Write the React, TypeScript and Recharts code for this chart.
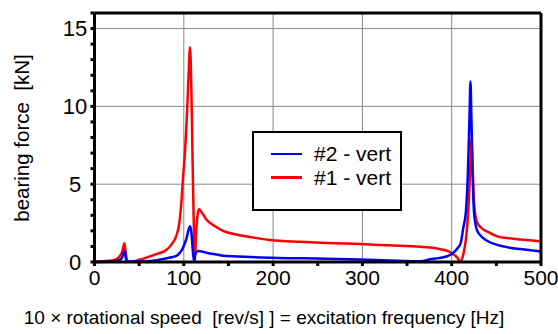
import { LineChart, Line, XAxis, YAxis, CartesianGrid } from 'recharts'

// excitation frequency [Hz]
const freq = [
  0, 10, 20, 25, 28, 31, 33.5, 35, 36.5, 40, 50, 62, 70, 80, 86, 92, 95, 97.5, 99, 101, 103, 105, 107, 108.5,
  110, 111.5, 112.5, 113.5, 115, 117, 120, 125, 135, 144, 160, 180, 197, 230, 260, 298, 330, 365, 376, 385, 395,
  402, 406, 410, 413, 416, 418, 420, 421, 422, 423.5, 425, 428, 433, 440, 451, 465, 477, 500,
]
// #1 - vert [kN]
const bearing1 = [
  0.02, 0.05, 0.1, 0.2, 0.35, 0.65, 1.2, 0.6, 0.05, 0.02, 0.14, 0.36, 0.52, 0.75, 1.1, 1.75, 2.5, 4.0, 5.3, 6.8,
  8.8, 11.5, 13.8, 11, 6, 1.5, 0.1, 1.5, 2.8, 3.4, 3.2, 2.75, 2.3, 2.0, 1.75, 1.55, 1.42, 1.3, 1.22, 1.15, 1.07,
  0.98, 0.93, 0.85, 0.72, 0.5, 0.3, 0.02, 0.5, 1.5, 2.8, 5.0, 6.5, 7.9, 6.0, 3.8, 2.6, 2.2, 1.95, 1.65, 1.52, 1.45,
  1.34,
]
// #2 - vert [kN]
const bearing2 = [
  0, 0.01, 0.02, 0.06, 0.12, 0.3, 0.7, 0.3, 0.02, 0.02, 0.03, 0.06, 0.12, 0.22, 0.3, 0.4, 0.55, 0.75, 0.9, 1.2,
  1.5, 2.0, 2.3, 1.9, 0.8, 0.05, 0.4, 0.6, 0.68, 0.7, 0.68, 0.6, 0.5, 0.4, 0.36, 0.31, 0.27, 0.24, 0.21, 0.16,
  0.1, 0.05, 0.17, 0.25, 0.37, 0.6, 0.85, 1.2, 2.2, 3.3, 5.5, 9.5, 11.6, 9.5, 5.5, 3.2, 2.1, 1.65, 1.35, 1.1,
  0.92, 0.83, 0.67,
]

const xTicks = [0, 50, 100, 150, 200, 250, 300, 350, 400, 450, 500]
const yTicks = [0, 1, 2, 3, 4, 5, 6, 7, 8, 9, 10, 11, 12, 13, 14, 15, 16]
const xGrid = [100, 200, 300, 400]
const yGrid = [5, 10, 15]

const data = freq.map((f, i) => ({ f, b1: bearing1[i], b2: bearing2[i] }))

const FONT = '"Liberation Sans", Arial, sans-serif'

const YTick = ({ x, y, payload }: any) =>
  payload.value % 5 === 0 ? (
    <text x={x} y={y} dy="0.35em" textAnchor="middle" fontSize={22} fill="#000" fontFamily={FONT}>
      {payload.value}
    </text>
  ) : null

const XTick = ({ x, y, payload }: any) =>
  payload.value % 100 === 0 ? (
    <text x={x} y={y} dy="0.72em" textAnchor="middle" fontSize={21} fill="#000" fontFamily={FONT}>
      {payload.value}
    </text>
  ) : null

const XTitle = () => (
  <text x={264} y={324} textAnchor="middle" fontSize={19} fill="#000" fontFamily={FONT} style={{ whiteSpace: 'pre' }}>
    {'10 \u00d7 rotational speed  [rev/s] ] = excitation frequency [Hz]'}
  </text>
)

const YTitle = () => (
  <text
    x={22}
    y={138}
    transform="rotate(-90 22 138)"
    dy="0.35em"
    textAnchor="middle"
    fontSize={20.5}
    fill="#000"
    fontFamily={FONT}
    style={{ whiteSpace: 'pre' }}
  >
    {'bearing force  [kN]'}
  </text>
)

const legendItems = [
  { label: '#2 - vert', color: '#0000ff' },
  { label: '#1 - vert', color: '#ff0000' },
]

export default function App() {
  return (
    <div style={{ position: 'absolute', left: 0, top: 0, width: 558, height: 334, background: '#fff' }}>
      <LineChart width={558} height={334} data={data} margin={{ top: 12, right: 0, bottom: 0, left: 0 }}>
        <CartesianGrid
          xAxisId="b"
          yAxisId="l"
          horizontalValues={yGrid}
          verticalValues={xGrid}
          stroke="#888"
          strokeWidth={1}
        />
        <XAxis
          xAxisId="b"
          dataKey="f"
          type="number"
          domain={[0, 500]}
          ticks={xTicks}
          interval={0}
          height={72}
          stroke="#000"
          strokeWidth={3}
          tickSize={4}
          tickMargin={4}
          tick={<XTick />}
          label={<XTitle />}
        />
        <XAxis
          xAxisId="t"
          dataKey="f"
          type="number"
          orientation="top"
          domain={[0, 500]}
          ticks={xTicks}
          interval={0}
          height={1}
          stroke="#000"
          strokeWidth={3}
          tickSize={4}
          tick={false}
        />
        <YAxis
          yAxisId="l"
          type="number"
          domain={[0, 16]}
          ticks={yTicks}
          interval={0}
          width={94.5}
          stroke="#000"
          strokeWidth={3}
          tickSize={4}
          tickMargin={15.5}
          tick={<YTick />}
          label={<YTitle />}
        />
        <YAxis
          yAxisId="r"
          orientation="right"
          type="number"
          domain={[0, 16]}
          ticks={yTicks}
          interval={0}
          width={17}
          stroke="#000"
          strokeWidth={3}
          tickSize={4}
          tick={false}
        />
        <Line
          xAxisId="b"
          yAxisId="l"
          dataKey="b1"
          type="monotone"
          stroke="#ff0000"
          strokeWidth={2.5}
          dot={false}
          isAnimationActive={false}
        />
        <Line
          xAxisId="b"
          yAxisId="l"
          dataKey="b2"
          type="monotone"
          stroke="#0000ff"
          strokeWidth={2.5}
          dot={false}
          isAnimationActive={false}
        />
      </LineChart>
      <div
        style={{
          position: 'absolute',
          left: 252,
          top: 131,
          width: 146,
          height: 67,
          border: '2px solid #000',
          background: '#fff',
          fontFamily: FONT,
          fontSize: 21,
          lineHeight: '23.5px',
          paddingTop: 9,
          boxSizing: 'content-box',
        }}
      >
        {legendItems.map((it) => (
          <div key={it.label} style={{ display: 'flex', alignItems: 'center', height: 23.5 }}>
            <div style={{ width: 31, height: 2.5, background: it.color, marginLeft: 17, marginRight: 12 }} />
            <span>{it.label}</span>
          </div>
        ))}
      </div>
    </div>
  )
}
